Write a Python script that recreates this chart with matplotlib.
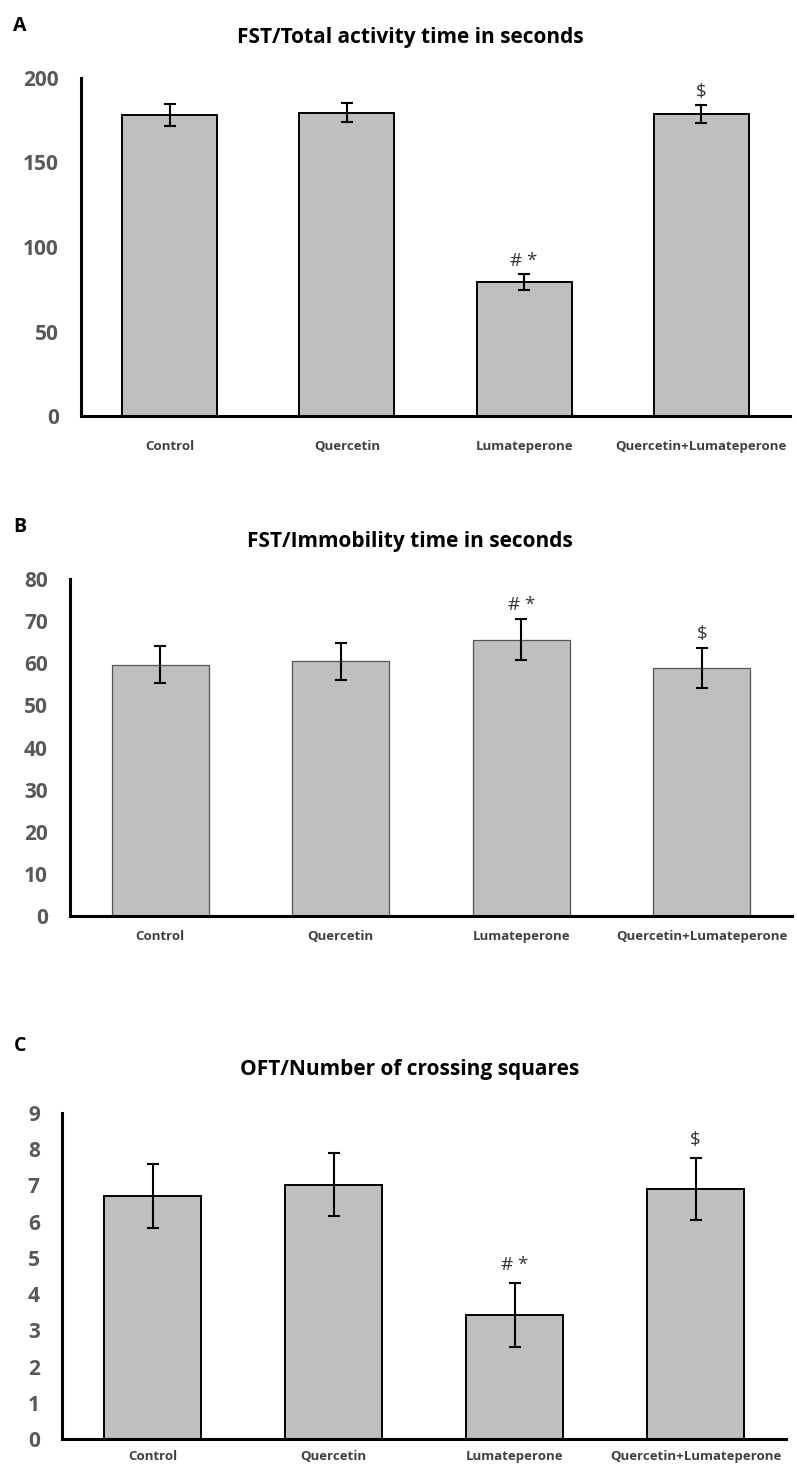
import numpy as np
import matplotlib.pyplot as plt

plt.rcParams['font.family'] = ['Open Sans', 'DejaVu Sans']

## data
groups = ['Control', 'Quercetin', 'Lumateperone', 'Quercetin+Lumateperone']

total_activity = [178.0, 179.5, 79.3, 178.7]
total_activity_err = [6.5, 5.5, 5.0, 5.3]

immobility = [59.6, 60.5, 65.6, 58.9]
immobility_err = [4.4, 4.4, 4.9, 4.7]

crossings = [6.7, 7.02, 3.42, 6.9]
crossings_err = [0.88, 0.87, 0.88, 0.86]

marks = ['', '', '# *', '$']

## layout: (letter, title, values, errors, ymax, ystep, axes rect, letter y, title y, label pad, mark gap, edge)
panels = [
    ('A', 'FST/Total activity time in seconds', total_activity, total_activity_err,
     200, 50, [81/797, 1-416/1469, 709/797, 338/1469], 26, 37, 17, 13, ('black', 1.4)),
    ('B', 'FST/Immobility time in seconds', immobility, immobility_err,
     80, 10, [70/797, 1-916/1469, 722/797, 337/1469], 527, 542, 10, 14, ('#555555', 0.9)),
    ('C', 'OFT/Number of crossing squares', crossings, crossings_err,
     9, 1, [62/797, 1-1439/1469, 724/797, 326/1469], 1046, 1069, 8, 18, ('black', 1.4)),
]

fig = plt.figure(figsize=(7.97, 14.69), dpi=100)
x = np.arange(len(groups))

for letter, title, vals, errs, ymax, ystep, rect, ly, ty, lpad, mgap, edge in panels:
    ax = fig.add_axes(rect)
    ax.bar(x, vals, width=0.535, color='#bfbfbf', edgecolor=edge[0], linewidth=edge[1], zorder=2)
    ax.errorbar(x, vals, yerr=errs, fmt='none', ecolor='black', elinewidth=1.5,
                capsize=4, capthick=1.5, zorder=3)
    ax.set_xlim(-0.5, len(groups) - 0.5)
    ax.set_ylim(0, ymax)
    ticks = np.arange(0, ymax + ystep / 2, ystep)
    ax.set_yticks(ticks)
    ax.set_yticklabels([str(int(v)) for v in ticks], fontsize=15, fontweight='bold', color='#595959')
    ax.set_xticks(x)
    ax.set_xticklabels(groups, fontsize=9.5, fontweight='bold', color='#404040')
    ax.tick_params(axis='y', length=0, pad=16)
    ax.tick_params(axis='x', length=0, pad=lpad)
    for s in ['top', 'right']:
        ax.spines[s].set_visible(False)
    for s in ['left', 'bottom']:
        ax.spines[s].set_linewidth(2.2)
    ax.spines['left'].set_zorder(4)

    for xi, v, e, m in zip(x, vals, errs, marks):
        if m:
            ax.annotate(m, (xi, v + e), xytext=(0, mgap * 0.72), textcoords='offset points',
                        ha='center', va='center', fontsize=13.5, color='#333333')

    fig.text(20/797, 1 - ly/1469, letter, fontsize=14, fontweight='bold', ha='center', va='center')
    fig.text(410/797, 1 - ty/1469, title, fontsize=15, fontweight='bold', ha='center', va='center')

fig.savefig('out.png', dpi=100, facecolor='white')
